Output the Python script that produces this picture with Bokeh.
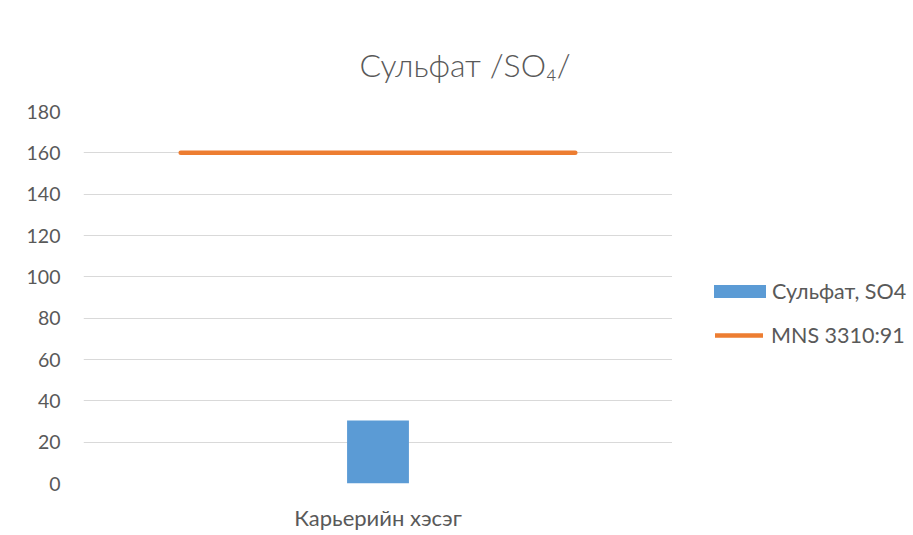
from bokeh.plotting import figure
from bokeh.models import (Range1d, FactorRange, ColumnDataSource, Legend, LegendItem,
                          FixedTicker, Title)
from bokeh.layouts import row
from bokeh.transform import dodge
from bokeh.embed import file_html
from bokeh.resources import INLINE

# ---- data ----
categories = ["Карьерийн хэсэг"]
sulfate = [30.5]          # Сульфат, SO4
mns_limit = [160]         # MNS 3310:91
y_ticks = [0, 20, 40, 60, 80, 100, 120, 140, 160, 180]
title_text = "Сульфат /SO₄/"
series_names = ["Сульфат, SO4", "MNS 3310:91"]

BLUE = "#5B9BD5"
ORANGE = "#ED7D31"
GREY_TXT = "#595959"
FONT = "Lato"

p = figure(frame_width=589, frame_height=372, x_range=FactorRange(*categories), y_range=Range1d(0, 180),
           output_backend="svg", toolbar_location=None, title=None,
           min_border_left=83, min_border_right=0, min_border_top=111, min_border_bottom=52)
p.outline_line_color = None
p.xgrid.grid_line_color = None
p.ygrid.grid_line_color = "#D9D9D9"
p.ygrid.grid_line_width = 1
p.yaxis.ticker = FixedTicker(ticks=y_ticks)
for ax in (p.xaxis[0], p.yaxis[0]):
    ax.axis_line_color = None
    ax.major_tick_line_color = None
    ax.minor_tick_line_color = None
    ax.major_tick_out = 0
    ax.major_tick_in = 0
    ax.major_label_text_font = FONT
    ax.major_label_text_color = GREY_TXT
p.yaxis.major_label_text_font_size = "19.5px"
p.xaxis.major_label_text_font_size = "22px"
p.yaxis.major_label_standoff = 23
p.xaxis.major_label_standoff = 20

src = ColumnDataSource(dict(x=categories, s=sulfate, m=mns_limit))
bar_style = dict(fill_color=BLUE, line_color=None)
line_style = dict(line_color=ORANGE, line_width=4.5, line_cap="round")
p.vbar(x="x", top="s", width=0.105, source=src, **bar_style)
p.segment(x0=dodge("x", -0.335, range=p.x_range), x1=dodge("x", 0.335, range=p.x_range),
          y0="m", y1="m", source=src, **line_style)

title = Title(text=title_text, align="left", offset=276, standoff=56,
              text_font="'Lato Light', Lato", text_font_size="32px", text_color=GREY_TXT,
              text_font_style="normal")
p.add_layout(title, "above")

# legend panel (second figure); its view range excludes the data so only the legend keys show
q = figure(width=241, height=535, output_backend="svg", toolbar_location=None,
           x_range=FactorRange(*categories), y_range=Range1d(-2, -1),
           x_axis_location=None, y_axis_location=None,
           min_border_left=0, min_border_right=0, min_border_top=0, min_border_bottom=0)
q.outline_line_color = None
q.grid.visible = False
kb = q.vbar(x="x", top="s", width=0, source=src, **bar_style)
kl = q.segment(x0="x", x1="x", y0="m", y1="m", source=src, **line_style)

leg_kw = dict(orientation="vertical", label_text_font=FONT, label_text_font_size="21.5px",
              label_text_color=GREY_TXT, padding=0, margin=0, border_line_color=None,
              background_fill_alpha=0)
leg_bar = Legend(items=[LegendItem(label=series_names[0], renderers=[kb])],
                 location=(35, 179), glyph_width=65, glyph_height=16, label_standoff=0, **leg_kw)
leg_line = Legend(items=[LegendItem(label=series_names[1], renderers=[kl])],
                  location=(43, 135), glyph_width=48, glyph_height=16, label_standoff=8, **leg_kw)
q.add_layout(leg_bar, "center")
q.add_layout(leg_line, "center")

layout = row(p, q, spacing=0)
open("out.html", "w").write(file_html(layout, INLINE))
